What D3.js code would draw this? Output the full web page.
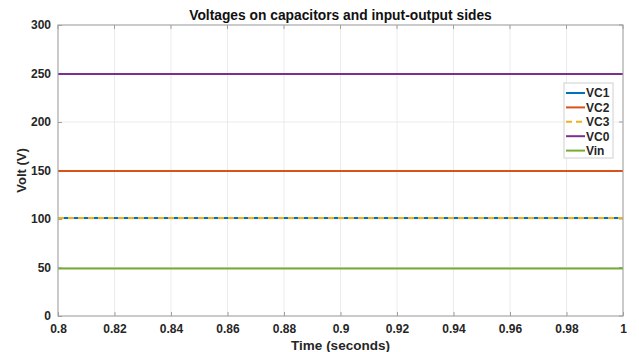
<!DOCTYPE html>
<html>
<head>
<meta charset="utf-8">
<script src="https://cdn.jsdelivr.net/npm/d3@7"></script>
<style>
body { margin: 0; background: #fff; }
text { font-family: Arial, "Liberation Sans", sans-serif; }
</style>
</head>
<body>
<svg width="639" height="352"></svg>
<script>
var timeRange = [0.8, 1.0];
var seriesNames = ["VC1", "VC2", "VC3", "VC0", "Vin"];
var seriesColors = ["#0072BD", "#D95319", "#EDB120", "#7E2F8E", "#77AC30"];
var seriesDash = [null, null, "6,4", null, null];
// steady values (V), constant over the window
var seriesLevels = [101, 149.5, 101, 249.5, 49];
var xTicks = [0.8, 0.82, 0.84, 0.86, 0.88, 0.9, 0.92, 0.94, 0.96, 0.98, 1];
var yTicks = [0, 50, 100, 150, 200, 250, 300];

var svg = d3.select("svg");
var margin = {left: 58, right: 16, top: 25, bottom: 36};
var width = 639 - margin.left - margin.right;
var height = 352 - margin.top - margin.bottom;

var x = d3.scaleLinear().domain(timeRange).range([0, width]);
var y = d3.scaleLinear().domain([0, 300]).range([height, 0]);

var g = svg.append("g").attr("transform", "translate(" + margin.left + "," + margin.top + ")");

// grid
g.selectAll(".vgrid").data(xTicks).enter().append("line")
	.attr("x1", function(d) { return x(d); }).attr("x2", function(d) { return x(d); })
	.attr("y1", 0).attr("y2", height)
	.style("stroke", "#ebebeb").style("stroke-width", 1);
g.selectAll(".hgrid").data(yTicks).enter().append("line")
	.attr("x1", 0).attr("x2", width)
	.attr("y1", function(d) { return y(d); }).attr("y2", function(d) { return y(d); })
	.style("stroke", "#ebebeb").style("stroke-width", 1);

// axes
var xAxis = d3.axisBottom(x).tickValues(xTicks).tickSize(-4).tickPadding(8)
	.tickFormat(function(d) { return d3.format("")(+d.toFixed(2)); });
var yAxis = d3.axisLeft(y).tickValues(yTicks).tickSize(-4).tickPadding(7);

var gx = g.append("g").attr("transform", "translate(0," + height + ")").call(xAxis);
var gy = g.append("g").call(yAxis);
[gx, gy].forEach(function(a) {
	a.select(".domain").remove();
	a.selectAll("line").style("stroke", "#a0a0a0");
	a.selectAll("text").style("font-size", "12px").style("font-weight", "bold").style("fill", "#262626");
});

// top/right ticks
g.selectAll(".tt").data(xTicks).enter().append("line")
	.attr("x1", function(d) { return x(d); }).attr("x2", function(d) { return x(d); })
	.attr("y1", 0).attr("y2", 4).style("stroke", "#a0a0a0");
g.selectAll(".rt").data(yTicks).enter().append("line")
	.attr("x1", width).attr("x2", width - 4)
	.attr("y1", function(d) { return y(d); }).attr("y2", function(d) { return y(d); })
	.style("stroke", "#a0a0a0");

// lines
var series = seriesNames.map(function(n, i) {
	return {name: n, color: seriesColors[i], dash: seriesDash[i],
		values: timeRange.map(function(t) { return {t: t, v: seriesLevels[i]}; })};
});
var line = d3.line().x(function(d) { return x(d.t); }).y(function(d) { return y(d.v); });
var drawOrder = [0, 1, 3, 4, 2];
drawOrder.forEach(function(i) {
	var s = series[i];
	g.append("path").datum(s.values).attr("d", line)
		.style("fill", "none").style("stroke", s.color).style("stroke-width", 2)
		.style("stroke-dasharray", s.dash);
});

// box
g.append("rect").attr("x", 0).attr("y", 0).attr("width", width).attr("height", height)
	.style("fill", "none").style("stroke", "#a0a0a0").style("stroke-width", 1);

// legend
var lg = svg.append("g").attr("transform", "translate(564,83)");
lg.append("rect").attr("width", 49).attr("height", 75)
	.style("fill", "#fff").style("stroke", "#d0d0d0");
series.forEach(function(s, i) {
	var yy = 10 + i * 14.4;
	lg.append("line").attr("x1", 2).attr("x2", 21).attr("y1", yy).attr("y2", yy)
		.style("stroke", s.color).style("stroke-width", 2).style("stroke-dasharray", s.dash);
	lg.append("text").attr("x", 22).attr("y", yy + 4.3).text(s.name)
		.style("font-size", "12px").style("font-weight", "bold").style("fill", "#262626");
});

// titles
svg.append("text").attr("x", margin.left + width / 2).attr("y", 20).attr("text-anchor", "middle")
	.text("Voltages on capacitors and input-output sides")
	.style("font-size", "13.8px").style("font-weight", "bold").style("fill", "#111");
svg.append("text").attr("x", margin.left + width / 2).attr("y", 350).attr("text-anchor", "middle")
	.text("Time (seconds)")
	.style("font-size", "13.5px").style("font-weight", "bold").style("fill", "#262626");
svg.append("text").attr("transform", "translate(26," + (margin.top + height / 2) + ") rotate(-90)")
	.attr("text-anchor", "middle").text("Volt (V)")
	.style("font-size", "13px").style("font-weight", "bold").style("fill", "#262626");
</script>
</body>
</html>
